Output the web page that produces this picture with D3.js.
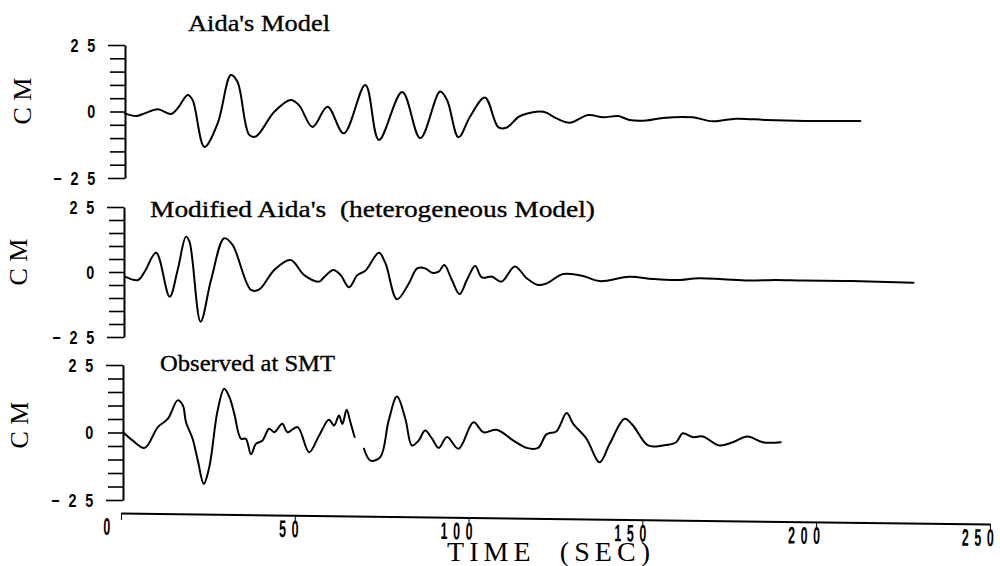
<!DOCTYPE html>
<html><head><meta charset="utf-8">
<script src="https://cdn.jsdelivr.net/npm/d3@7"></script>
<style>html,body{margin:0;padding:0;background:#fff}</style>
</head><body>
<svg id="c" width="1000" height="566"></svg>
<script>
// ---------------- data ----------------
const titles = ["Aida's Model", "Modified Aida's  (heterogeneous Model)", "Observed at SMT"];
const yAxisLabel = "CM";
const xAxisLabel = "TIME  (SEC)";
const xTickValues = [0, 50, 100, 150, 200, 250];
const yTickValues = [-25, -20, -15, -10, -5, 0, 5, 10, 15, 20, 25];
const yLabelValues = [-25, 0, 25];

const aidaTime = [1.1,4.4,6.8,10.6,14.4,16.3,19.2,20.6,24.0,27.8,31.6,33.5,36.9,38.8,44.1,48.8,51.2,55.1,59.4,64.1,70.3,74.2,80.9,86.1,91.8,93.8,97.1,100.4,104.7,108.6,111.0,114.8,121.5,125.3,129.1,134.4,138.7,143.0,146.3,151.1,155.9,164.5,170.2,176.9,185.5,194.1,202.7,212.7];
const aidaCm   = [-0.7,-1.7,-0.7,0.8,-0.9,1.2,6.2,4.3,-13.3,-4.5,13.7,11.2,-8.8,-9.4,-0.1,4.3,2.4,-5.8,1.8,-8.2,10.0,-10.7,7.3,-10.0,7.5,4.3,-9.7,-2.0,5.3,-6.0,-6.0,-1.7,-0.1,-2.6,-4.2,-1.3,-2.2,-1.7,-3.2,-3.4,-2.4,-2.2,-3.7,-2.7,-3.2,-3.5,-3.6,-3.6];

const modTime = [1.1,4.9,6.8,10.1,14.0,16.3,18.7,19.7,22.9,25.9,29.7,32.1,37.4,39.8,44.1,48.8,52.7,57.0,58.4,61.1,63.2,65.6,68.0,70.3,74.2,76.1,79.4,82.8,85.2,87.5,89.5,91.4,93.0,95.2,97.4,99.5,101.9,103.8,106.7,109.5,113.3,116.7,120.0,122.4,127.2,132.9,137.7,146.3,153.0,159.7,166.4,173.1,180.7,188.4,196.0,210.3,228.0];
const modCm   = [-1.8,-3.1,0.1,7.4,-9.5,0.8,13.6,11.7,-19.1,-3.1,13.0,10.4,-6.9,-6.7,0.8,4.6,-1.2,-3.7,-2.0,0.8,-1.2,-5.9,-1.2,0.5,7.4,3.3,-10.5,-4.4,1.4,1.4,-0.3,0.1,2.7,-3.1,-8.5,-3.1,2.3,-2.1,-1.8,-3.7,2.1,-2.4,-5.0,-4.4,-0.8,-1.5,-3.5,-1.8,-2.7,-3.1,-2.4,-2.8,-3.3,-3.1,-3.3,-3.5,-4.1];

const obsTime = [0.6,3.4,6.8,10.6,13.5,16.3,17.8,18.7,20.6,22.1,23.8,25.4,27.8,29.7,31.2,32.6,34.5,35.9,37.4,38.8,40.7,42.6,44.1,46.4,47.9,50.8,54.1,57.0,59.8,61.3,62.7,63.7,64.9,66.0,67.2,68.5,69.9,71.8,74.6,77.0,79.4,81.8,83.7,85.6,87.5,89.5,91.4,93.8,97.1,101.4,104.3,108.1,112.9,116.7,120.0,122.4,125.3,128.2,130.1,133.9,137.7,140.6,144.9,147.3,151.6,155.9,159.7,161.6,164.5,167.4,172.1,176.0,180.3,184.6,189.8];
const obsCm   = [0.1,-3.0,-5.7,2.0,5.1,11.9,10.0,3.8,-2.3,-10.4,-19.0,-12.8,8.2,16.2,13.1,6.9,-2.3,-2.3,-8.1,-4.2,-3.0,1.4,0.1,3.2,0.1,2.0,-7.3,-1.1,4.7,2.6,6.3,3.2,8.4,3.8,-1.7,null,-6.0,-10.4,-9.1,4.4,13.3,5.1,-4.8,-3.0,0.7,-2.3,-5.7,-1.7,-6.0,3.8,0.1,1.0,-3.0,-5.7,-5.7,-0.7,0.5,7.2,3.2,-2.3,-11.0,-4.2,5.1,2.6,-4.8,-4.8,-3.6,-0.3,-1.7,-1.5,-4.8,-3.6,-1.5,-3.6,-3.6];

const series = [[aidaTime, aidaCm], [modTime, modCm], [obsTime, obsCm]];

// ---------------- layout ----------------
const panels = [
  {axisX:125, top:45,  bottom:178, tx:188, ty:31,  tlen:142, cx:22, cy:101},
  {axisX:124, top:207, bottom:337, tx:150, ty:217, tlen:445, cx:18, cy:262},
  {axisX:123, top:365, bottom:500, tx:160, ty:371, tlen:175, cx:19, cy:425}
];
const svg = d3.select("#c");
const x = d3.scaleLinear().domain([0, 250]).range([121, 990]);
const serif = "'Liberation Serif', 'DejaVu Serif', serif";
const narrow = "'Liberation Sans Narrow', 'Liberation Sans', 'DejaVu Sans', sans-serif";

function fmtY(d) {
  if (d === 0) return "0";
  if (d === 25) return "25";
  if (d === -25) return "\u221225";
  return "";
}

panels.forEach((p, i) => {
  const y = d3.scaleLinear().domain([-25, 25]).range([p.bottom, p.top]);
  const g = svg.append("g").attr("transform", `translate(${p.axisX},0)`)
    .call(d3.axisLeft(y).tickValues(yTickValues).tickSize(15).tickSizeOuter(0).tickFormat(fmtY));
  g.select(".domain").attr("stroke", "#000").attr("stroke-width", 2);
  g.selectAll(".tick line").attr("stroke", "#000").attr("stroke-width", 1.6)
    .attr("x2", d => Math.abs(d) === 25 ? -17 : -15);
  g.selectAll(".tick text")
    .attr("x", 0).attr("dy", "0.36em")
    .attr("transform", "translate(-21,0) scale(0.8,1)")
    .attr("font-family", narrow).attr("font-size", 18).attr("font-weight", "bold")
    .attr("letter-spacing", 11).attr("fill", "#000");

  // title
  svg.append("text").attr("x", p.tx).attr("y", p.ty)
    .style("white-space", "pre")
    .attr("font-family", serif).attr("font-size", 24)
    .attr("textLength", p.tlen).attr("lengthAdjust", "spacingAndGlyphs")
    .attr("fill", "#000").attr("stroke", "#000").attr("stroke-width", 0.35)
    .text(titles[i]);

  // CM label
  svg.append("text")
    .attr("transform", `translate(${p.cx},${p.cy}) rotate(-90)`)
    .attr("text-anchor", "middle").attr("dominant-baseline", "central")
    .attr("font-family", serif).attr("font-size", 26)
    .attr("textLength", 47).attr("lengthAdjust", "spacing")
    .attr("fill", "#000").text(yAxisLabel);

  // trace
  const [ts, vs] = series[i];
  const pts = ts.map((t, k) => [t, vs[k]]);
  const line = d3.line()
    .defined(d => d[1] !== null)
    .x(d => x(d[0])).y(d => y(d[1]))
    .curve(d3.curveCatmullRom.alpha(0.5));
  svg.append("path").datum(pts).attr("d", line)
    .attr("fill", "none").attr("stroke", "#000").attr("stroke-width", 2)
    .attr("stroke-linejoin", "round").attr("stroke-linecap", "round");
});

// ---------------- x axis ----------------
const gx = svg.append("g").attr("transform", "rotate(0.73,121,513) translate(0,513)")
  .call(d3.axisBottom(x).tickValues(xTickValues).tickSize(7).tickSizeOuter(0).tickFormat(d3.format("d")));
gx.select(".domain").attr("stroke", "#000").attr("stroke-width", 2);
gx.selectAll(".tick line").attr("stroke", "#000").attr("stroke-width", 1);
gx.selectAll(".tick text")
  .attr("y", 0).attr("dy", 0).attr("x", 0)
  .attr("text-anchor", "end")
  .attr("transform", d => `translate(${d === 0 ? -5.4 : 9.1},22) scale(0.52,1)`)
  .attr("font-family", narrow).attr("font-size", 24).attr("font-weight", "bold")
  .attr("letter-spacing", 10.7).attr("fill", "#000");

svg.append("text").attr("x", 447).attr("y", 561)
  .style("white-space", "pre")
  .attr("font-family", serif).attr("font-size", 28)
  .attr("textLength", 203).attr("lengthAdjust", "spacing")
  .attr("fill", "#000").text(xAxisLabel);
</script>
</body></html>
